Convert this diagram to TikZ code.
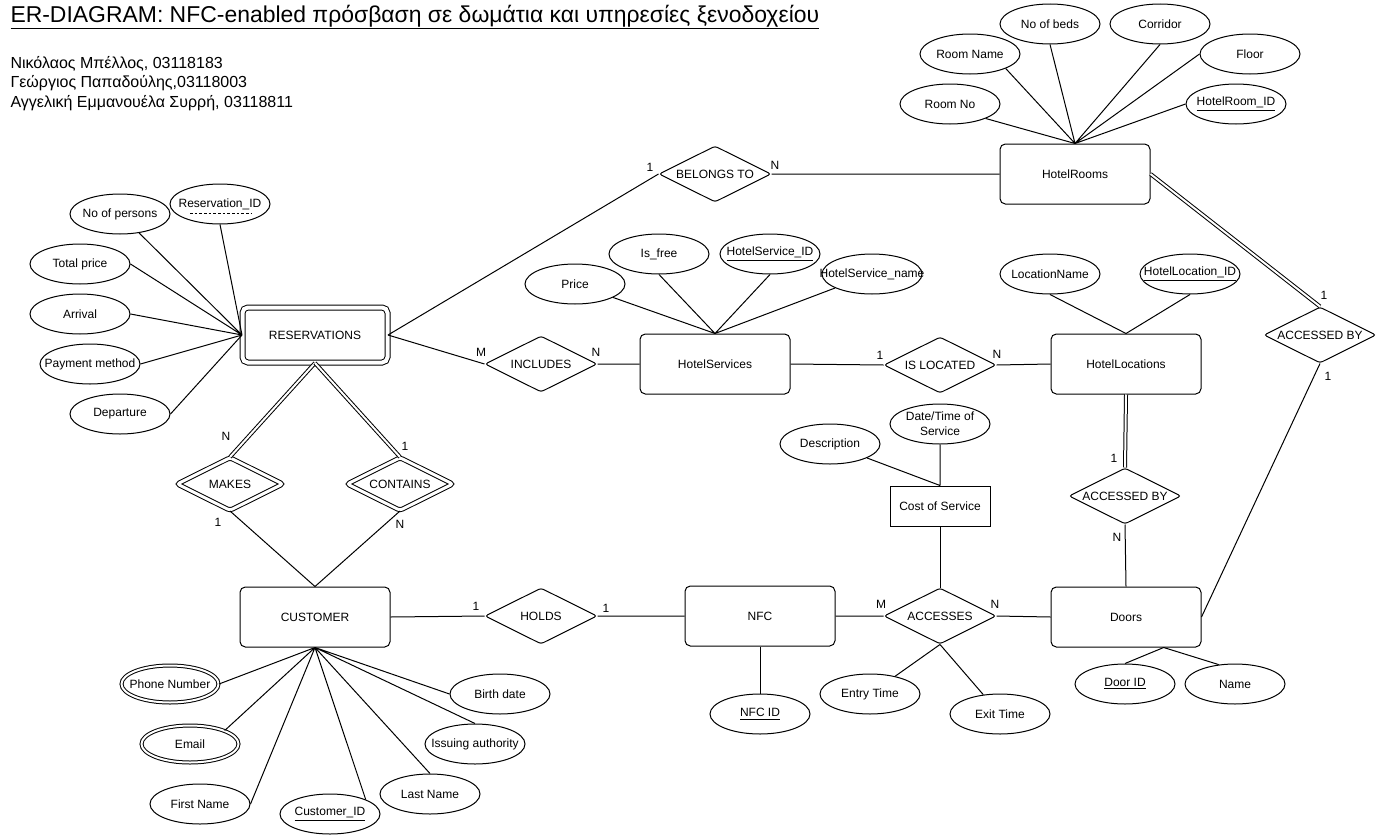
\documentclass[tikz,border=0pt]{standalone}
\usepackage{fontspec}
\setmainfont{Liberation Sans}
\usetikzlibrary{shapes.geometric}
\newcommand{\nowd}[1]{\makebox[0pt]{#1}}

\begin{document}
\begin{tikzpicture}[%
        x=0.75pt, y=-0.75pt, line width=0.75pt,
        every node/.style={font=\fontsize{9}{11}\selectfont, inner sep=0pt},
        entity/.style={draw, rounded corners=4pt, minimum width=112.5pt, minimum height=45pt},
        weak/.style={entity, double, double distance=3pt, minimum width=108.75pt, minimum height=41.25pt},
        rel/.style={draw, diamond, aspect=2, rounded corners=2pt, minimum width=84pt, minimum height=42pt},
        idrel/.style={rel, double, double distance=2.25pt, minimum width=79.5pt, minimum height=39.75pt},
        attr/.style={draw, ellipse, minimum width=75pt, minimum height=30pt},
        multi/.style={attr, double, double distance=1.5pt, minimum width=72.75pt, minimum height=27.75pt},
        total/.style={double, double distance=1.5pt}
      ]
      \path [use as bounding box, fill=white] (0,0) rectangle (1381,835);

      \node [anchor=base west, font=\fontsize{17.2}{20}\selectfont] (title) at (10,22) {\underline{ER-DIAGRAM: NFC-enabled πρόσβαση σε δωμάτια και υπηρεσίες ξενοδοχείου}};
      \node [anchor=base west, font=\fontsize{12}{14}\selectfont] (au1) at (10,68) {Νικόλαος Μπέλλος, 03118183};
      \node [anchor=base west, font=\fontsize{12}{14}\selectfont] (au2) at (10,87.5) {Γεώργιος Παπαδούλης,03118003};
      \node [anchor=base west, font=\fontsize{12}{14}\selectfont] (au3) at (10,107) {Αγγελική Εμμανουέλα Συρρή, 03118811};

      \node [weak] (res) at (315,335) {RESERVATIONS};
      \node [entity] (cust) at (315,617) {CUSTOMER};
      \node [entity] (nfc) at (760,616) {NFC};
      \node [entity] (door) at (1126,617) {Doors};
      \node [entity] (serv) at (715,364) {HotelServices};
      \node [entity] (loc) at (1126,364) {HotelLocations};
      \node [entity] (room) at (1075,174) {HotelRooms};
      \node [draw, minimum width=75pt, minimum height=30pt] (cost) at (940,506) {Cost of Service};

      \node [rel] (belongs) at (715,174) {BELONGS TO};
      \node [rel] (includes) at (541,364) {INCLUDES};
      \node [rel] (located) at (940,365) {IS LOCATED};
      \node [rel] (accroom) at (1320,335) {ACCESSED BY};
      \node [rel] (accloc) at (1125,496) {ACCESSED BY};
      \node [idrel] (makes) at (230,484) {MAKES};
      \node [idrel] (contains) at (400,484) {CONTAINS};
      \node [rel] (holds) at (541,616) {HOLDS};
      \node [rel] (accesses) at (940,616) {ACCESSES};

      \node [attr] (rno) at (950,104) {\nowd{Room No}};
      \node [attr] (rname) at (970,54) {\nowd{Room Name}};
      \node [attr] (beds) at (1050,24) {\nowd{No of beds}};
      \node [attr] (corr) at (1160,24) {\nowd{Corridor}};
      \node [attr] (floor) at (1250,54) {\nowd{Floor}};
      \node [attr] (rid) at (1236,104) {\nowd{\underline{HotelRoom\_ID}}};

      \node [attr] (resid) at (220,204) {\nowd{Reservation\_ID}};
      \draw [dashed, line width=0.6pt, dash pattern=on 2pt off 1.5pt] ([shift={(-30,9)}]resid.center) -- ([shift={(32,9)}]resid.center);
      \node [attr] (persons) at (120,214) {\nowd{No of persons}};
      \node [attr] (total) at (80,264) {\nowd{Total price}};
      \node [attr] (arrival) at (80,314) {\nowd{Arrival}};
      \node [attr] (pay) at (90,364) {\nowd{Payment method}};
      \node [attr] (dep) at (120,414) {\nowd{Departure}};

      \node [attr] (sprice) at (575,284) {\nowd{Price}};
      \node [attr] (free) at (659,254) {\nowd{Is\_free}};
      \node [attr] (sid) at (770,254) {\nowd{\underline{HotelService\_ID}}};
      \node [attr] (sname) at (872,274) {\nowd{HotelService\_name}};

      \node [attr] (lname) at (1050,274) {\nowd{LocationName}};
      \node [attr] (lid) at (1190,274) {\nowd{\underline{HotelLocation\_ID}}};

      \node [attr] (desc) at (830,444) {\nowd{Description}};
      \node [attr, align=center] (when) at (940,424) {\nowd{Date/Time of}\\\nowd{Service}};
      \node [attr] (entry) at (870,694) {\nowd{Entry Time}};
      \node [attr] (exit) at (1000,714) {\nowd{Exit Time}};
      \node [attr] (nfcid) at (760,714) {\nowd{\underline{NFC ID}}};
      \node [attr] (did) at (1125,684) {\nowd{\underline{Door ID}}};
      \node [attr] (dname) at (1235,684) {\nowd{Name}};

      \node [multi] (phone) at (170,684) {\nowd{Phone Number}};
      \node [multi] (email) at (190,744) {\nowd{Email}};
      \node [attr] (first) at (200,804) {\nowd{First Name}};
      \node [attr] (custid) at (330,814) {\nowd{\underline{Customer\_ID}}};
      \node [attr] (last) at (430,794) {\nowd{Last Name}};
      \node [attr] (issue) at (475,744) {\nowd{Issuing authority}};
      \node [attr] (birth) at (500,694) {\nowd{Birth date}};

      \draw (res.east) -- (belongs.west) (belongs.east) -- (room.west);
      \draw (res.east) -- (includes.west) (includes.east) -- (serv.west);
      \draw (serv.east) -- (located.west) (located.east) -- (loc.west);
      \draw [total] (room.east) -- (accroom.north);
      \draw (accroom.south) -- (door.east);
      \draw [total] (loc.south) -- (accloc.north);
      \draw (accloc.south) -- (door.north);
      \draw [total] (res.south) -- (makes.north);
      \draw [total] (res.south) -- (contains.north);
      \draw (makes.south) -- (cust.north) (contains.south) -- (cust.north);
      \draw (cust.east) -- (holds.west) (holds.east) -- (nfc.west);
      \draw (nfc.east) -- (accesses.west) (accesses.east) -- (door.west);
      \draw (cost.south) -- (accesses.north);

      \draw (rno.south east) -- (room.north) (rname.south east) -- (room.north)
      (beds.south) -- (room.north) (corr.south) -- (room.north)
      (floor.west) -- (room.north) (rid.west) -- (room.north);
      \draw (resid.south) -- (res.west) (persons) -- (res.west) (total.east) -- (res.west)
      (arrival.east) -- (res.west) (pay.east) -- (res.west) (dep.east) -- (res.west);
      \draw (sprice) -- (serv.north) (free.south) -- (serv.north)
      (sid.south) -- (serv.north) (sname) -- (serv.north);
      \draw (lname.south) -- (loc.north) (lid.south) -- (loc.north);
      \draw (desc) -- (cost.north) (when.south) -- (cost.north);
      \draw (entry) -- (accesses.south) (exit) -- (accesses.south);
      \draw (nfcid.north) -- (nfc.south);
      \draw (did.north) -- (door.-39) (dname.130) -- (door.-39);
      \draw (phone.east) -- (cust.south) (email.north east) -- (cust.south)
      (first.east) -- (cust.south) (custid.north east) -- (cust.south)
      (last.north) -- (cust.south) (issue.north) -- (cust.south) (birth.west) -- (cust.south);

      \node (c1) at (650,167) {1};
      \node (c2) at (775,165) {N};
      \node (c3) at (481,352) {M};
      \node (c4) at (596,352) {N};
      \node (c5) at (880,355) {1};
      \node (c6) at (997,354) {N};
      \node (c7) at (1324,295) {1};
      \node (c8) at (1328,376) {1};
      \node (c9) at (1114,458) {1};
      \node (c10) at (1117,537) {N};
      \node (c11) at (226,436) {N};
      \node (c12) at (218,522) {1};
      \node (c13) at (405,446) {1};
      \node (c14) at (400,524) {N};
      \node (c15) at (476,606) {1};
      \node (c16) at (606,608) {1};
      \node (c17) at (881,604) {M};
      \node (c18) at (995,604) {N};
    \end{tikzpicture}
\end{document}
